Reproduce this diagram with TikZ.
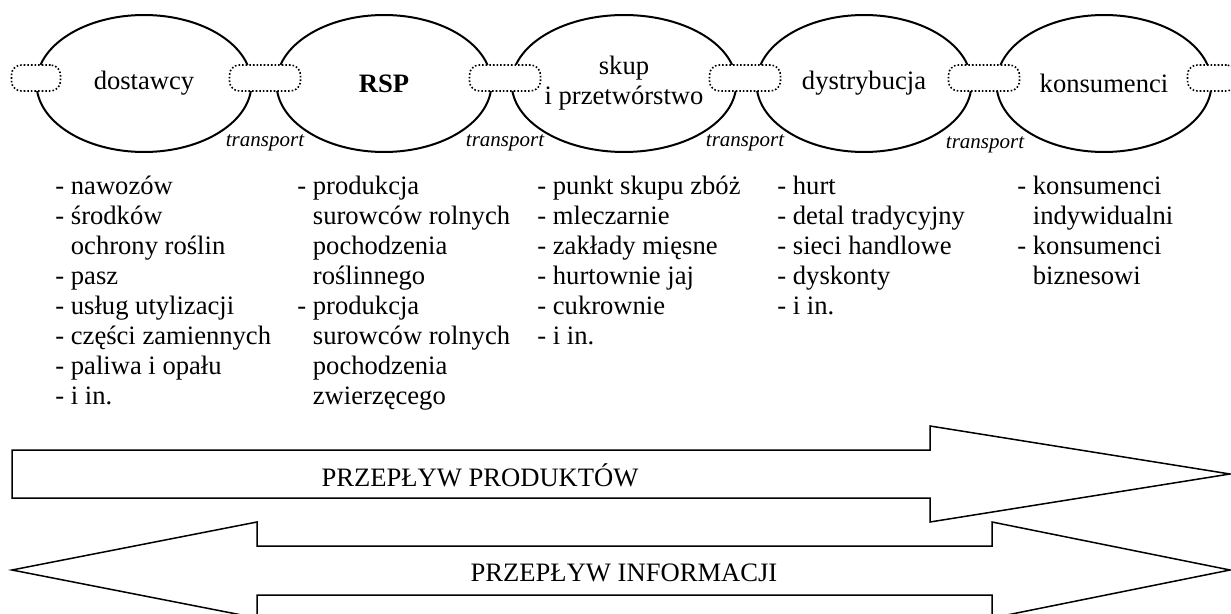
\documentclass[tikz,border=0pt]{standalone}
\usepackage{fontspec}
\setmainfont{Liberation Serif}
\usetikzlibrary{shapes.geometric}

\newcommand{\mainSty}{\fontsize{13.3}{15}\selectfont}
\newcommand{\transpSty}{\fontsize{10.5}{12}\selectfont\itshape}
\newcommand{\contInd}{\hphantom{- }}
\newcommand{\transpLabel}{transport}

\tikzset{
	stage/.style={ellipse, draw, line width=1pt, minimum width=107.5pt, minimum height=68.5pt, inner sep=0pt, align=center, font=\mainSty},
	link/.style={draw, fill=white, densely dotted, line width=0.8pt, rounded corners=5pt, minimum width=35.5pt, minimum height=13pt, inner sep=0pt},
	endlink/.style={link, minimum width=24.5pt},
	transp/.style={anchor=base, inner sep=0pt, font=\transpSty},
	goods/.style={anchor=north west, inner sep=0pt, align=left, font=\mainSty},
	flow/.style={draw, line width=0.75pt, line join=miter},
	flowtxt/.style={anchor=base, inner sep=0pt, font=\mainSty}
}

\begin{document}
\begin{tikzpicture}[x=0.5pt, y=-0.5pt]

		% frame
		\useasboundingbox (0,0) rectangle (1231,614);

		% chain links
		\node[stage] (dostawcy) at (144,83.5) {dostawcy};
		\node[stage] (rsp) at (384,83.5) {\textbf{RSP}};
		\node[stage] (skup) at (624,83.5) {skup\\i przetwórstwo};
		\node[stage] (dystr) at (864,83.5) {dystrybucja};
		\node[stage] (kons) at (1104,83.5) {konsumenci};

		% dotted joints
		\node[endlink] (joint0) at (36,78) {};
		\node[link] (joint1) at (265,78) {};
		\node[link] (joint2) at (505,78) {};
		\node[link] (joint3) at (745,78) {};
		\node[link] (joint4) at (984,78) {};
		\node[endlink] (joint5) at (1212,78) {};

		% transport labels
		\node[transp] (tr1) at (265,147) {\transpLabel};
		\node[transp] (tr2) at (505,147) {\transpLabel};
		\node[transp] (tr3) at (745,147) {\transpLabel};
		\node[transp] (tr4) at (985,149) {\transpLabel};

		% lists under the links
		\node[goods] (listDost) at (55,176) {- nawozów\\- środków\\\contInd ochrony roślin\\- pasz\\- usług utylizacji\\- części zamiennych\\- paliwa i opału\\- i in.};
		\node[goods] (listRsp) at (297,176) {- produkcja\\\contInd surowców rolnych\\\contInd pochodzenia\\\contInd roślinnego\\- produkcja\\\contInd surowców rolnych\\\contInd pochodzenia\\\contInd zwierzęcego};
		\node[goods] (listSkup) at (537,176) {- punkt skupu zbóż\\- mleczarnie\\- zakłady mięsne\\- hurtownie jaj\\- cukrownie\\- i in.};
		\node[goods] (listDystr) at (777,176) {- hurt\\- detal tradycyjny\\- sieci handlowe\\- dyskonty\\- i in.};
		\node[goods] (listKons) at (1017,176) {- konsumenci\\\contInd indywidualni\\- konsumenci\\\contInd biznesowi};

		% product flow
		\draw[flow] (12,450) -- (930,450) -- (930,426) -- (1230,474) -- (930,522) -- (930,498) -- (12,498) -- cycle;
		\node[flowtxt] (produkty) at (480,486) {PRZEPŁYW PRODUKTÓW};

		% information flow
		\draw[flow] (12,570) -- (257,522) -- (257,546) -- (992,546) -- (992,522) -- (1230,570) -- (992,618) -- (992,595) -- (257,595) -- (257,618) -- cycle;
		\node[flowtxt] (informacje) at (624,581) {PRZEPŁYW INFORMACJI};

\end{tikzpicture}
\end{document}
